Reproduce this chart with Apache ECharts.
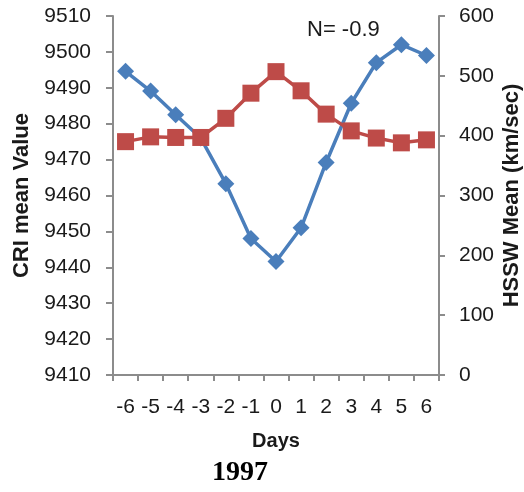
<!DOCTYPE html>
<html>
<head>
<meta charset="utf-8">
<script src="https://cdn.jsdelivr.net/npm/echarts@6/dist/echarts.min.js"></script>
<style>html,body{margin:0;padding:0;background:#fff}#c{width:524px;height:492px}</style>
</head>
<body>
<div id="c"></div>
<script>
const days = ['-6','-5','-4','-3','-2','-1','0','1','2','3','4','5','6'];
const criMean = [9494.6, 9489.1, 9482.5, 9476.0, 9463.3, 9448.0, 9441.6, 9451.0, 9469.2, 9485.7, 9497.0, 9502.0, 9499.0];
const hsswMean = [390, 398, 397, 397, 429, 471, 507, 475, 436, 408, 396, 388, 393];
const annotation = 'N= -0.9';
const yearLabel = '1997';

const chart = echarts.init(document.getElementById('c'));
const axisCol = '#8c8c8c';
const txt = '#1a1a1a';
const font = 'Liberation Sans';
chart.setOption({
  animation: false,
  backgroundColor: '#fff',
  grid: {left: 113, right: 85, top: 16, bottom: 117, containLabel: false, outerBoundsMode: 'none'},
  xAxis: {
    type: 'category', data: days, boundaryGap: true,
    name: 'Days', nameLocation: 'middle', nameGap: 56, nameMoveOverlap: false,
    nameTextStyle: {fontFamily: font, fontWeight: 'bold', fontSize: 20, color: txt},
    axisLine: {lineStyle: {color: axisCol, width: 2}},
    axisTick: {show: true, length: 6, interval: 0, lineStyle: {color: axisCol, width: 2}},
    axisLabel: {interval: 0, margin: 22, fontFamily: font, fontSize: 21, color: txt},
    splitLine: {show: false}
  },
  yAxis: [{
    type: 'value', min: 9410, max: 9510, interval: 10, position: 'left',
    name: 'CRI mean Value', nameLocation: 'middle', nameGap: 80, nameMoveOverlap: false,
    nameTextStyle: {fontFamily: font, fontWeight: 'bold', fontSize: 22, color: txt},
    axisLine: {show: true, lineStyle: {color: axisCol, width: 2}},
    axisTick: {show: true, length: 7, lineStyle: {color: axisCol, width: 2}},
    axisLabel: {margin: 22, fontFamily: font, fontSize: 21, color: txt, formatter: v => String(v)},
    splitLine: {show: false}
  }, {
    type: 'value', min: 0, max: 600, interval: 100, position: 'right',
    name: 'HSSW Mean (km/sec)', nameLocation: 'middle', nameGap: 62, nameMoveOverlap: false,
    nameTextStyle: {fontFamily: font, fontWeight: 'bold', fontSize: 22, color: txt},
    axisLine: {show: true, lineStyle: {color: axisCol, width: 2}},
    axisTick: {show: true, length: 6, lineStyle: {color: axisCol, width: 2}},
    axisLabel: {margin: 20, fontFamily: font, fontSize: 21, color: txt, formatter: v => String(v)},
    splitLine: {show: false}
  }],
  series: [{
    name: 'CRI', type: 'line', yAxisIndex: 0, data: criMean,
    symbol: 'diamond', symbolSize: 17,
    lineStyle: {color: '#4a7ebb', width: 3.5},
    itemStyle: {color: '#4a7ebb'}
  }, {
    name: 'HSSW', type: 'line', yAxisIndex: 1, data: hsswMean,
    symbol: 'rect', symbolSize: 17,
    lineStyle: {color: '#be4b48', width: 3.5},
    itemStyle: {color: '#be4b48'}
  }],
  graphic: [{
    type: 'text', left: 307, top: 19,
    style: {text: annotation, font: '22px "Liberation Sans"', fill: txt}
  }, {
    type: 'text', left: 212, top: 459,
    style: {text: yearLabel, font: 'bold 28px "Liberation Serif"', fill: '#000'}
  }]
});
</script>
</body>
</html>
